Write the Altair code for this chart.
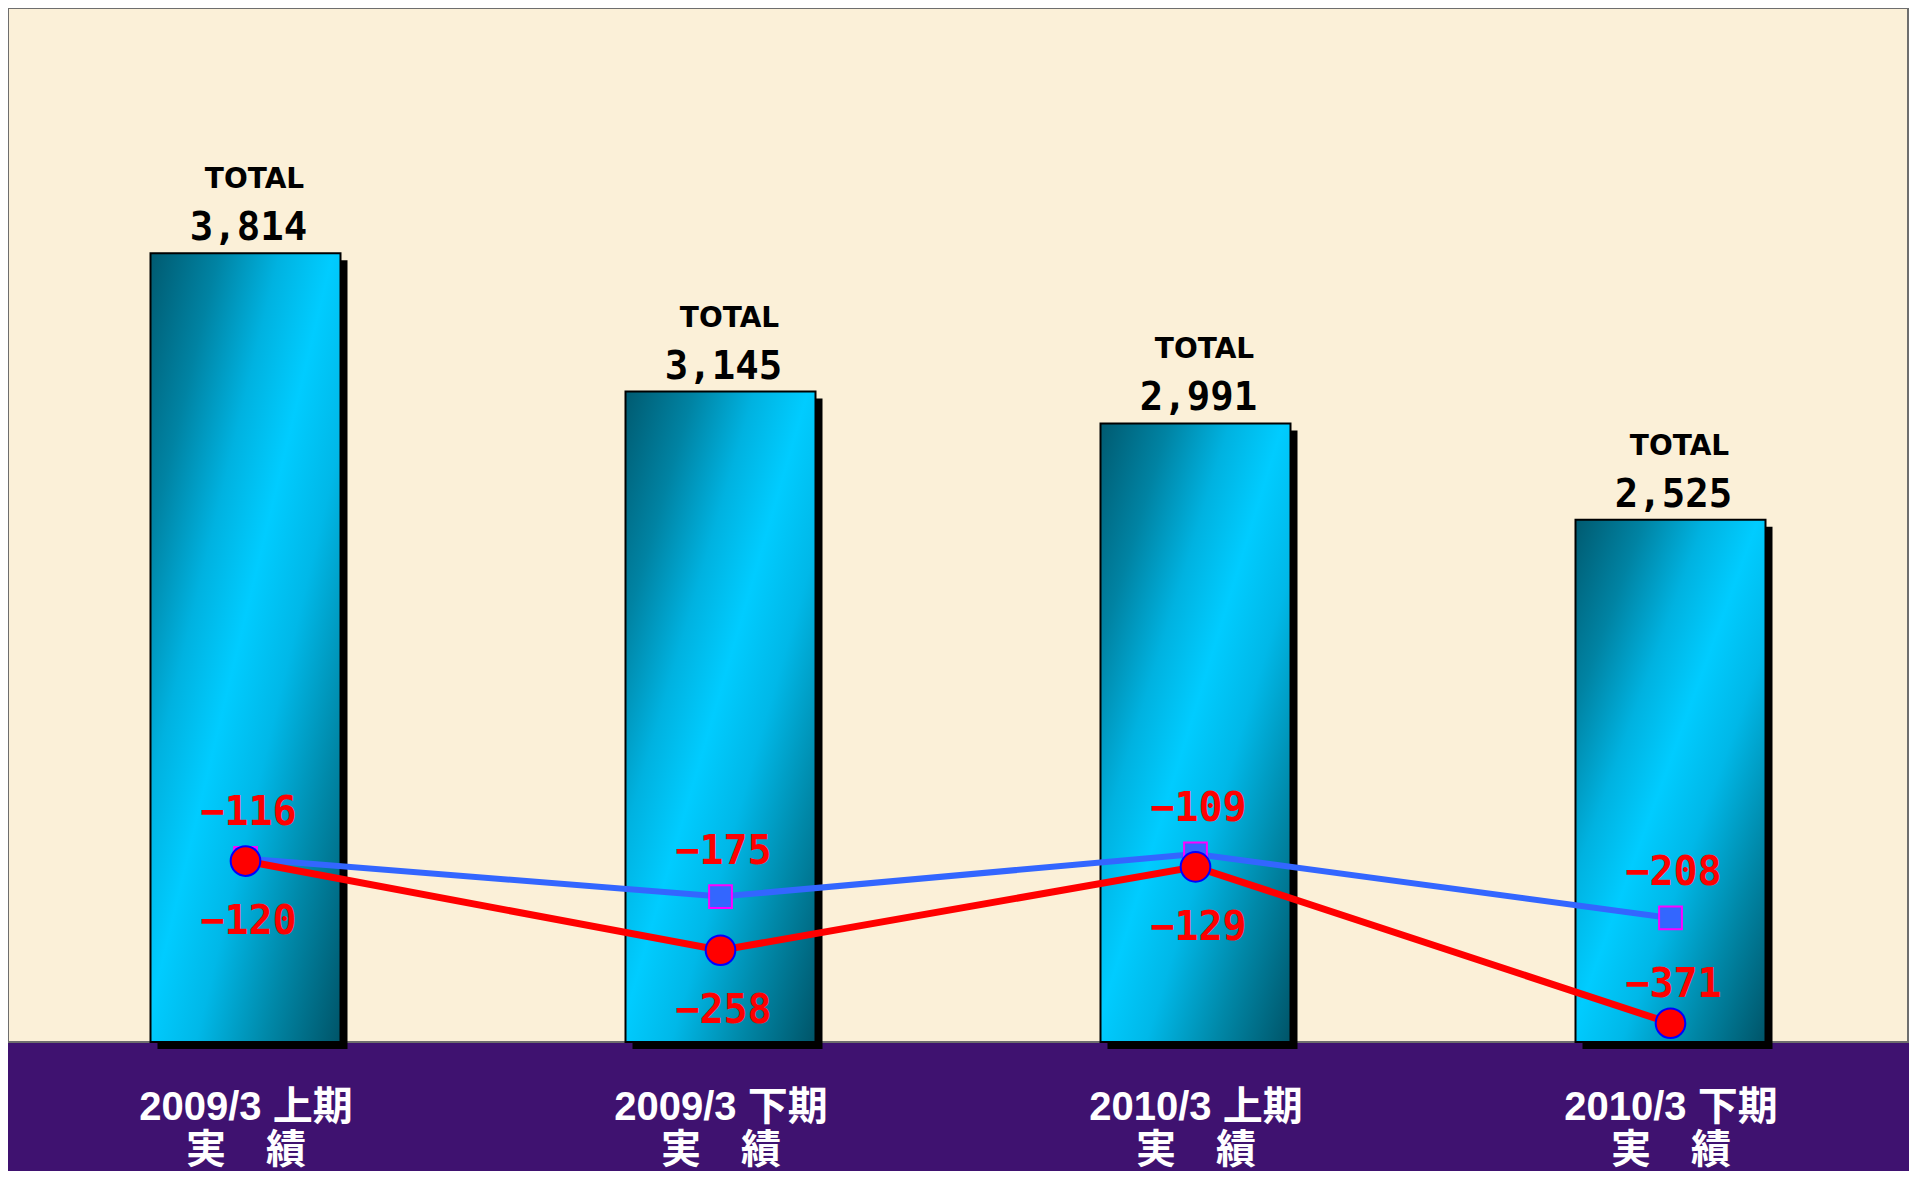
import altair as alt
import pandas as pd

periods = ["2009/3 上期", "2009/3 下期", "2010/3 上期", "2010/3 下期"]
sub_label = "実　績"
totals = [3814, 3145, 2991, 2525]
blue_vals = [-116, -175, -109, -208]
red_vals = [-120, -258, -129, -371]

df = pd.DataFrame({
    "period": [p + "|" + sub_label for p in periods],
    "total": totals,
    "blue": blue_vals,
    "red": red_vals,
})
order = list(df["period"])

X = alt.X(
    "period:N", sort=order, title=None,
    scale=alt.Scale(paddingInner=0.6, paddingOuter=0.3),
    axis=alt.Axis(
        labelExpr="split(datum.label, '|')", labelAngle=0, labelColor="white",
        labelFont="Liberation Sans, Noto Sans CJK JP", labelFontSize=40,
        labelFontWeight="bold", labelLineHeight=43, labelPadding=45,
        labelLimit=500, labelOverlap=False, domain=False,
        tickBand="extent", tickSize=15, offset=-15, tickColor="#333333",
        tickWidth=1, grid=False,
    ),
)

Y1 = alt.Y("total:Q", scale=alt.Scale(domain=[0, 5000]), axis=None)
sec_scale = alt.Scale(domain=[-400, 1200])

base = alt.Chart(df)

grad = alt.Gradient(
    gradient="linear", x1=0, y1=0, x2=1, y2=1,
    stops=[
        alt.GradientStop(offset=0, color="#005A70"),
        alt.GradientStop(offset=0.18, color="#0083A3"),
        alt.GradientStop(offset=0.34, color="#00B2E0"),
        alt.GradientStop(offset=0.48, color="#00CCFF"),
        alt.GradientStop(offset=0.62, color="#00B8E8"),
        alt.GradientStop(offset=0.8, color="#0088A8"),
        alt.GradientStop(offset=1, color="#005468"),
    ],
)

shadow = base.mark_bar(color="black", xOffset=7, yOffset=7).encode(x=X, y=Y1)
bars = base.mark_bar(fill=grad, stroke="black", strokeWidth=2).encode(x=X, y=Y1)
total_word = base.mark_text(
    text="TOTAL", font="DejaVu Sans", fontSize=28, fontWeight="bold",
    color="black", dy=-65, dx=9, baseline="alphabetic",
).encode(x=X, y=Y1)
total_num = base.mark_text(
    font="DejaVu Sans Mono", fontSize=39, fontWeight="bold", color="black",
    dy=-13, dx=3, baseline="alphabetic",
).encode(x=X, y=Y1, text=alt.Text("total:Q", format=","))

primary = alt.layer(shadow, bars, total_word, total_num)

Yb = alt.Y("blue:Q", scale=sec_scale, axis=None)
Yr = alt.Y("red:Q", scale=sec_scale, axis=None)

blue_line = base.mark_line(color="#3366FF", strokeWidth=6).encode(x=X, y=Yb)
blue_pts = base.mark_point(
    shape="square", filled=True, size=520, fill="#3366FF",
    stroke="#FF00FF", strokeWidth=2, opacity=1,
).encode(x=X, y=Yb)
red_line = base.mark_line(color="#FF0000", strokeWidth=7).encode(x=X, y=Yr)
red_pts = base.mark_point(
    shape="circle", filled=True, size=880, fill="#FF0000",
    stroke="#0000FF", strokeWidth=2, opacity=1,
).encode(x=X, y=Yr)

lab_style = dict(font="DejaVu Sans Mono", fontSize=40, fontWeight="bold",
                 color="#FF0000", baseline="alphabetic")
blue_lab = base.mark_text(dy=-33, dx=3, **lab_style).encode(
    x=X, y=Yb, text=alt.Text("blue:Q", format="d"))
red_lab_below = base.transform_filter("datum.red > -300").mark_text(
    dy=73, dx=3, **lab_style).encode(x=X, y=Yr, text=alt.Text("red:Q", format="d"))
red_lab_above = base.transform_filter("datum.red <= -300").mark_text(
    dy=-26, dx=3, **lab_style).encode(x=X, y=Yr, text=alt.Text("red:Q", format="d"))

secondary = alt.layer(blue_line, red_line, blue_pts, red_pts,
                      blue_lab, red_lab_below, red_lab_above)

chart = alt.layer(primary, secondary).resolve_scale(y="independent").properties(
    width=1900, height=1034,
    background="#3F1270",
    autosize=alt.AutoSizeParams(type="none"),
    padding={"left": 0, "top": 0, "right": 1, "bottom": 129},
).configure_view(fill="#FBF0D8", stroke="#6E6E6E", strokeWidth=2)

chart.save("out.html", embed_options={"renderer": "svg", "actions": False})
